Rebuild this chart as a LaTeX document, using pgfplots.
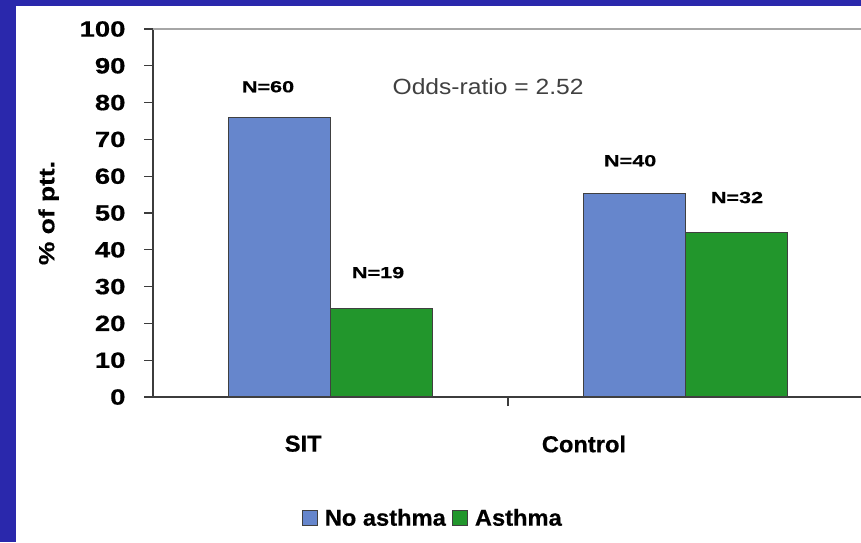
\documentclass[border=0pt]{standalone}
\usepackage{pgfplots}
\pgfplotsset{compat=1.18}
\usepackage{fontspec}
\setmainfont{Liberation Sans}
\newfontfamily\tickfont[FakeStretch=1.25,FakeBold=0.6]{Liberation Sans}
\newfontfamily\nfont[FakeStretch=1.35,FakeBold=0.5]{Liberation Sans}
\newfontfamily\oddsfont[FakeStretch=1.12]{Liberation Sans}
\newfontfamily\ylabfont[FakeStretch=1.2,FakeBold=0.5]{Liberation Sans}
\newfontfamily\labfont[FakeStretch=1.03,FakeBold=0.6]{Liberation Sans}
\definecolor{bgblue}{RGB}{42,40,172}
\definecolor{barblue}{RGB}{102,134,204}
\definecolor{bargreen}{RGB}{34,150,44}
\definecolor{axisgray}{RGB}{60,60,60}
\begin{document}
\begin{tikzpicture}[x=1pt,y=1pt]
\useasboundingbox (0,0) rectangle (861,542);
\fill[bgblue] (0,0) rectangle (861,542);
\fill[white] (16,0) rectangle (861,536);
\begin{axis}[
  at={(153pt,145pt)}, anchor=south west,
  scale only axis, width=710pt, height=368pt,
  xmin=-0.5, xmax=1.5, ymin=0, ymax=100,
  clip=false,
  axis x line*=bottom, axis y line*=left,
  axis line style={-, draw=axisgray, line width=1.3pt},
  ytick={0,10,...,100},
  tick align=outside,
  major tick length=9pt,
  tick style={draw=axisgray, line width=1.2pt},
  /pgf/number format/assume math mode=true,
  yticklabel style={font=\tickfont\bfseries\fontsize{22}{22}\selectfont, text=black, xshift=-15pt},
  xtick={0.5}, xticklabels={},
  extra x ticks={-0.077,0.714},
  extra x tick labels={SIT,Control},
  extra x tick style={major tick length=0pt, xticklabel style={yshift=-35pt}},
  xticklabel style={font=\labfont\bfseries\fontsize{23}{23}\selectfont, text=black},
  ylabel={\% of ptt.},
  ylabel style={font=\ylabfont\bfseries\fontsize{22}{22}\selectfont, at={(axis description cs:-0.147,0.5)}, anchor=center},
  ybar=0pt, bar width=102pt,
  legend style={at={(0.394,-0.329)}, anchor=center, draw=none, fill=none,
    legend columns=2, font=\labfont\bfseries\fontsize{23}{23}\selectfont,
    /tikz/every even column/.append style={column sep=4pt}},
]
\addplot[fill=barblue, draw=black!75, line width=1.1pt, bar shift=-51pt,
  legend image code/.code={\draw[fill=barblue, draw=black!75, line width=1pt] (0pt,-7.5pt) rectangle (15pt,7.5pt); \path (20pt,0pt);}]
  coordinates {(0,75.9) (1,55.3)};
\addplot[fill=bargreen, draw=black!75, line width=1.1pt, bar shift=51pt,
  legend image code/.code={\draw[fill=bargreen, draw=black!75, line width=1pt] (0pt,-7.5pt) rectangle (15pt,7.5pt); \path (20pt,0pt);}]
  coordinates {(0,24.1) (1,44.7)};
\legend{No asthma, Asthma}
\draw[gray!70, line width=1.5pt] (rel axis cs:0,1) -- (rel axis cs:1,1);
\node[font=\nfont\bfseries\fontsize{16}{16}\selectfont] at (axis cs:-0.176,84.3) {N=60};
\node[font=\nfont\bfseries\fontsize{16}{16}\selectfont] at (axis cs:0.134,33.8) {N=19};
\node[font=\nfont\bfseries\fontsize{16}{16}\selectfont] at (axis cs:0.844,64.2) {N=40};
\node[font=\nfont\bfseries\fontsize{16}{16}\selectfont] at (axis cs:1.145,54.2) {N=32};
\node[font=\oddsfont\fontsize{22}{22}\selectfont, text=black!75] at (axis cs:0.444,84.3) {Odds-ratio = 2.52};
\end{axis}
\end{tikzpicture}
\end{document}
